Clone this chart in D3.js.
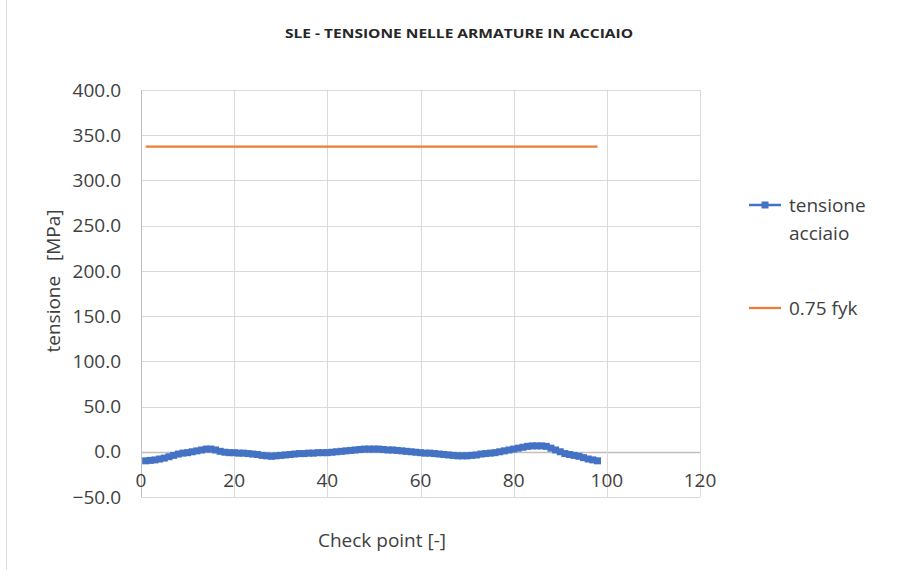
<!DOCTYPE html>
<html>
<head>
<meta charset="utf-8">
<script src="https://cdn.jsdelivr.net/npm/d3@7"></script>
<style>
  body { margin: 0; background: #fff; }
  svg text { font-family: "Open Sans", "Noto Sans", sans-serif; fill: #404040; }
</style>
</head>
<body>
<div id="chart"></div>
<script>
// check points 1..98
var checkPoints = d3.range(1, 99);

// tensione acciaio [MPa]
var tensione = [
  -10, -9.5, -9, -8, -7, -5.5, -4, -2.5, -1.5, -1,
  0, 1, 2, 3, 3, 2, 0.5, -0.5, -1, -1,
  -1.5, -1.5, -2, -2.5, -3, -4, -4.5, -5, -4.5, -4,
  -3.5, -3, -2.5, -2, -2, -1.5, -1.5, -1, -1, -1,
  -0.5, 0, 0.5, 1, 1.5, 2, 2.5, 3, 3, 3,
  3, 2.5, 2, 2, 1.5, 1, 0.5, 0, -0.5, -1,
  -1.5, -1.5, -2, -2.5, -3, -3.5, -4, -4.5, -4.5, -4.5,
  -4, -3.5, -2.5, -2, -1.5, -1, 0, 1, 2, 3,
  4, 5, 6, 6.5, 6.5, 6.5, 6, 4, 2, 0,
  -2, -3, -4, -5, -6.5, -8, -9, -10
];

// 0.75 fyk limit (450 MPa steel)
var limitX = [1, 98];
var limitY = [337.5, 337.5];

var xTicks = [0, 20, 40, 60, 80, 100, 120];
var yTicks = [-50, 0, 50, 100, 150, 200, 250, 300, 350, 400];

var width = 899, height = 570;
var fs = "19px";
var svg = d3.select("#chart").append("svg")
    .attr("width", width)
    .attr("height", height);

// chart border on the left
svg.append("line")
    .attr("x1", 6.5).attr("x2", 6.5)
    .attr("y1", 0).attr("y2", height)
    .attr("stroke", "#d9d9d9");

var x = d3.scaleLinear().domain([0, 120]).range([141, 700]);
var y = d3.scaleLinear().domain([-50, 400]).range([497, 90]);

// horizontal grid
svg.append("g").selectAll("line")
    .data(yTicks)
    .enter().append("line")
    .attr("x1", x(0)).attr("x2", x(120))
    .attr("y1", function(d) { return Math.round(y(d)) + 0.5; })
    .attr("y2", function(d) { return Math.round(y(d)) + 0.5; })
    .attr("stroke", function(d) { return d === 0 ? "#bfbfbf" : "#d9d9d9"; })
    .attr("stroke-width", function(d) { return d === 0 ? 1.5 : 1; });

// vertical grid
svg.append("g").selectAll("line")
    .data(xTicks)
    .enter().append("line")
    .attr("x1", function(d) { return Math.round(x(d)) + 0.5; })
    .attr("x2", function(d) { return Math.round(x(d)) + 0.5; })
    .attr("y1", y(400)).attr("y2", y(-50))
    .attr("stroke", function(d) { return d === 0 ? "#bfbfbf" : "#d9d9d9"; });

// y tick labels
svg.append("g").selectAll("text")
    .data(yTicks)
    .enter().append("text")
    .attr("x", 121)
    .attr("y", function(d) { return y(d); })
    .attr("dy", "0.35em")
    .attr("text-anchor", "end")
    .style("font-size", fs)
    .text(function(d) { return d3.format(".1f")(d); });

// x tick labels (next to the zero axis)
svg.append("g").selectAll("text")
    .data(xTicks)
    .enter().append("text")
    .attr("x", function(d) { return x(d); })
    .attr("y", y(0) + 29)
    .attr("dy", "0.35em")
    .attr("text-anchor", "middle")
    .style("font-size", fs)
    .text(function(d) { return d; });

// title
svg.append("text")
    .attr("x", 459)
    .attr("y", 38)
    .attr("text-anchor", "middle")
    .attr("textLength", 348)
    .attr("lengthAdjust", "spacingAndGlyphs")
    .style("font-size", "13px")
    .style("font-weight", "bold")
    .style("fill", "#262626")
    .text("SLE - TENSIONE NELLE ARMATURE IN ACCIAIO");

// axis titles
svg.append("text")
    .attr("transform", "translate(53,281) rotate(-90)")
    .attr("text-anchor", "middle")
    .attr("dy", "0.35em")
    .style("font-size", fs)
    .style("white-space", "pre")
    .text("tensione   [MPa]");

svg.append("text")
    .attr("x", 382)
    .attr("y", 540)
    .attr("text-anchor", "middle")
    .attr("dy", "0.35em")
    .style("font-size", fs)
    .text("Check point [-]");

// limit line
var line = d3.line()
    .x(function(d) { return x(d[0]); })
    .y(function(d) { return y(d[1]); });

svg.append("path")
    .datum(d3.zip(limitX, limitY))
    .attr("fill", "none")
    .attr("stroke", "#ED7D31")
    .attr("stroke-width", 2.25)
    .attr("d", line);

// tensione acciaio series
var blue = "#4472C4";
var pts = d3.zip(checkPoints, tensione);

svg.append("path")
    .datum(pts)
    .attr("fill", "none")
    .attr("stroke", blue)
    .attr("stroke-width", 2.5)
    .attr("stroke-linejoin", "round")
    .attr("d", line);

var ms = 7;
svg.append("g").selectAll("rect")
    .data(pts)
    .enter().append("rect")
    .attr("x", function(d) { return x(d[0]) - ms / 2; })
    .attr("y", function(d) { return y(d[1]) - ms / 2; })
    .attr("width", ms)
    .attr("height", ms)
    .attr("fill", blue);

// legend
var legend = svg.append("g");
legend.append("line")
    .attr("x1", 749).attr("x2", 781)
    .attr("y1", 205).attr("y2", 205)
    .attr("stroke", blue).attr("stroke-width", 2.5);
legend.append("rect")
    .attr("x", 765 - ms / 2).attr("y", 205 - ms / 2)
    .attr("width", ms).attr("height", ms)
    .attr("fill", blue);
legend.append("text")
    .attr("x", 789).attr("y", 205).attr("dy", "0.35em")
    .style("font-size", fs)
    .text("tensione");
legend.append("text")
    .attr("x", 789).attr("y", 233).attr("dy", "0.35em")
    .style("font-size", fs)
    .text("acciaio");

legend.append("line")
    .attr("x1", 749).attr("x2", 781)
    .attr("y1", 308).attr("y2", 308)
    .attr("stroke", "#ED7D31").attr("stroke-width", 2.25);
legend.append("text")
    .attr("x", 789).attr("y", 308).attr("dy", "0.35em")
    .style("font-size", fs)
    .text("0.75 fyk");
</script>
</body>
</html>
